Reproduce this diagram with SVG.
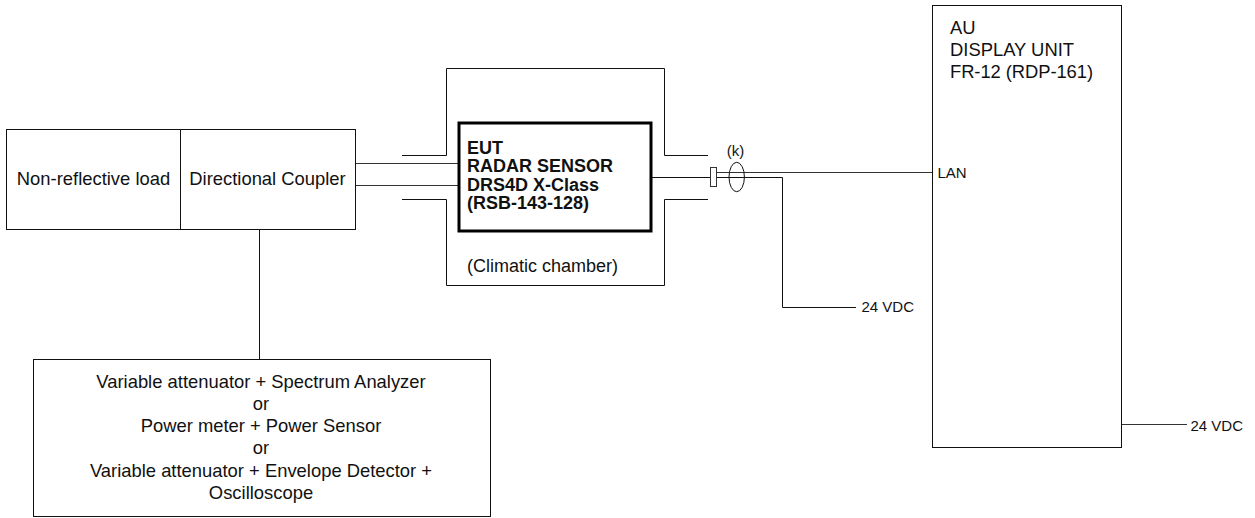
<svg xmlns="http://www.w3.org/2000/svg" width="1255" height="518" viewBox="0 0 1255 518">
<style>
text{font-family:"Liberation Sans",Arial,sans-serif;font-size:18.4px;fill:#111}
.b{fill:#fff;stroke:#111;stroke-width:1}
.l{fill:none;stroke:#111;stroke-width:1}
.g{fill:none;stroke:#333;stroke-width:1.2}
.m{text-anchor:middle}
.s{font-size:15px}
.h{font-weight:bold;font-size:18px}
</style>
<rect width="1255" height="518" fill="#fff"/>
<g id="chamber">
<path class="l" d="M402 155.500H446.500V68.500H664.500V155.500H708"/>
<path class="l" d="M402 199.500H446.500V285.500H664.500V199.500H708"/>
<text x="467" y="272" style="font-size:18px">(Climatic chamber)</text>
</g>
<g id="connectors">
<path class="g" d="M355 163.500H459"/>
<path class="g" d="M355 185.500H459"/>
<path class="l" d="M259.500 229V359"/>
<path class="l" d="M651 177.500H782.500V307.500H856"/>
<path class="g" d="M716 172.500H932"/>
<path class="g" d="M1122 424.500H1187"/>
</g>
<g id="load"><rect class="b" x="6.500" y="129.500" width="174" height="100"/><text class="m" x="93.500" y="185">Non-reflective load</text></g>
<g id="coupler"><rect class="b" x="180.500" y="129.500" width="175" height="100"/><text class="m" x="267.500" y="185">Directional Coupler</text></g>
<g id="eut"><rect x="459" y="123" width="192" height="108" fill="#fff" stroke="#000" stroke-width="3"/>
<text class="h" x="467" y="154">EUT</text>
<text class="h" x="467" y="172">RADAR SENSOR</text>
<text class="h" x="467" y="191">DRS4D X-Class</text>
<text class="h" x="467" y="209">(RSB-143-128)</text></g>
<g id="connector-plug"><rect x="710.500" y="167.500" width="6" height="19" fill="#fff" stroke="#333"/></g>
<g id="ferrite-k"><ellipse class="l" cx="736.700" cy="177" rx="7.700" ry="14.700"/><text class="m s" x="735.500" y="156">(k)</text></g>
<g id="display"><rect class="b" x="932.500" y="5.500" width="189" height="442"/>
<text x="950" y="34">AU</text><text x="950" y="56">DISPLAY UNIT</text><text x="950" y="78" textLength="143">FR-12 (RDP-161)</text>
<text class="s" x="937.500" y="178">LAN</text></g>
<g id="analyzer"><rect class="b" x="33.500" y="359.500" width="457" height="157"/>
<text class="m" x="261" y="388">Variable attenuator + Spectrum Analyzer</text>
<text class="m" x="261" y="410">or</text>
<text class="m" x="261" y="432">Power meter + Power Sensor</text>
<text class="m" x="261" y="454">or</text>
<text class="m" x="261" y="477">Variable attenuator + Envelope Detector +</text>
<text class="m" x="261" y="499">Oscilloscope</text></g>
<text class="s" x="861.500" y="312">24 VDC</text>
<text class="s" x="1190.500" y="431">24 VDC</text>
</svg>
